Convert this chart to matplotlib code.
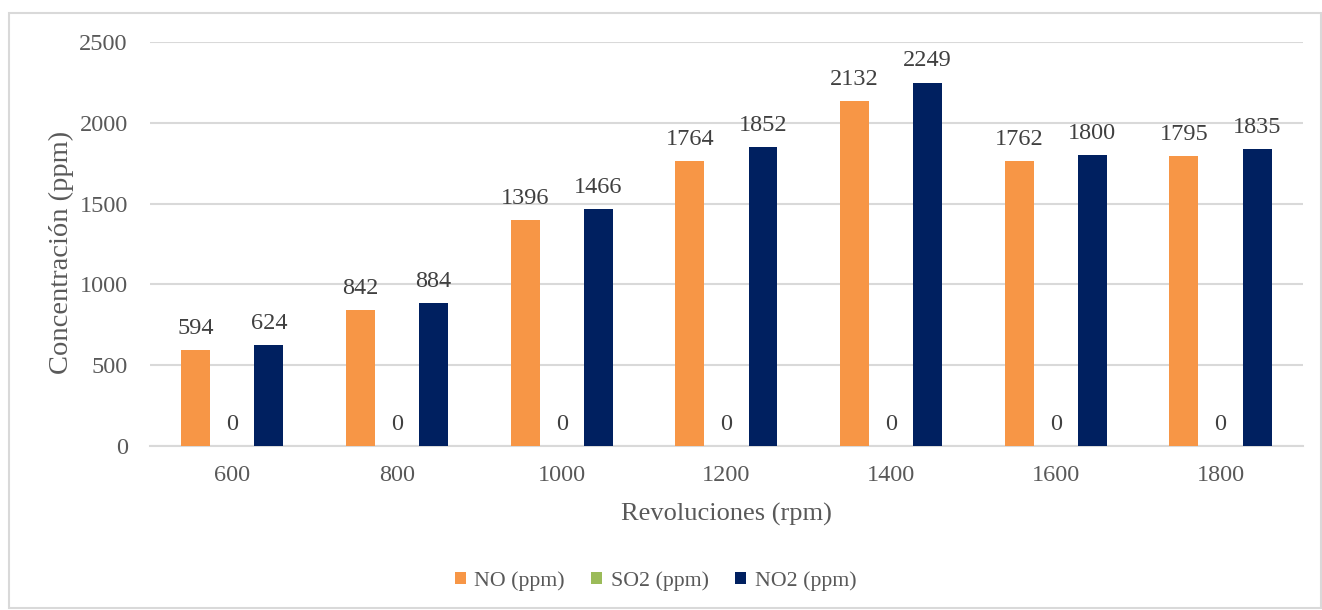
import numpy as np
import matplotlib.pyplot as plt
from matplotlib.patches import Rectangle

# Emissions measured at each engine speed
rpm = ['600', '800', '1000', '1200', '1400', '1600', '1800']
no_ppm = [594, 842, 1396, 1764, 2132, 1762, 1795]
so2_ppm = [0, 0, 0, 0, 0, 0, 0]
no2_ppm = [624, 884, 1466, 1852, 2249, 1800, 1835]

plt.rcParams['font.family'] = ['Liberation Serif', 'DejaVu Serif']
text_gray = '#595959'
grid_gray = '#D9D9D9'

fig = plt.figure(figsize=(13.22, 6.10), dpi=100)
ax = fig.add_axes([0.1135, 0.2689, 0.872, 0.6622])

x = np.arange(len(rpm))
offset = 0.222
width = 0.176
series = [
    (no_ppm, 'NO (ppm)', '#F79646', -offset),
    (so2_ppm, 'SO2 (ppm)', '#9BBB59', 0.0),
    (no2_ppm, 'NO2 (ppm)', '#002060', offset),
]
for vals, name, color, dx in series:
    bars = ax.bar(x + dx, vals, width, color=color, label=name, zorder=3)
    ax.bar_label(bars, labels=[str(v) for v in vals], padding=8,
                 fontsize=17.5, color='#404040')

ax.set_xlim(-0.5, len(rpm) - 0.5)
ax.set_ylim(0, 2500)
ax.set_yticks(np.arange(0, 2501, 500))
ax.set_xticks(x)
ax.set_xticklabels(rpm)
ax.yaxis.grid(True, color=grid_gray, linewidth=1.5, zorder=0)
ax.tick_params(length=0, labelsize=17.5, labelcolor=text_gray)
ax.tick_params(axis='x', pad=14)
ax.tick_params(axis='y', pad=16)
for side in ['top', 'right', 'left']:
    ax.spines[side].set_visible(False)
ax.spines['bottom'].set_color(grid_gray)
ax.spines['bottom'].set_linewidth(1.5)

ax.set_xlabel('Revoluciones (rpm)', fontsize=19, color=text_gray, labelpad=12)
ax.set_ylabel('Concentración (ppm)', fontsize=20.5, color=text_gray)
ax.yaxis.set_label_coords(-0.066, 0.48)

handles, labels = ax.get_legend_handles_labels()
fig.legend(handles, labels, loc='center', bbox_to_anchor=(0.496, 0.048),
           ncol=3, frameon=False, fontsize=15.75, labelcolor=text_gray,
           handlelength=0.5, handleheight=0.5, handletextpad=0.4,
           columnspacing=1.2)

# Light outline around the whole chart
fig.patches.append(Rectangle((9 / 1322, 2 / 610), 1 - 10 / 1322, 1 - 15 / 610,
                             transform=fig.transFigure, fill=False,
                             edgecolor=grid_gray, linewidth=1.5))

fig.savefig('out.png', dpi=100)
